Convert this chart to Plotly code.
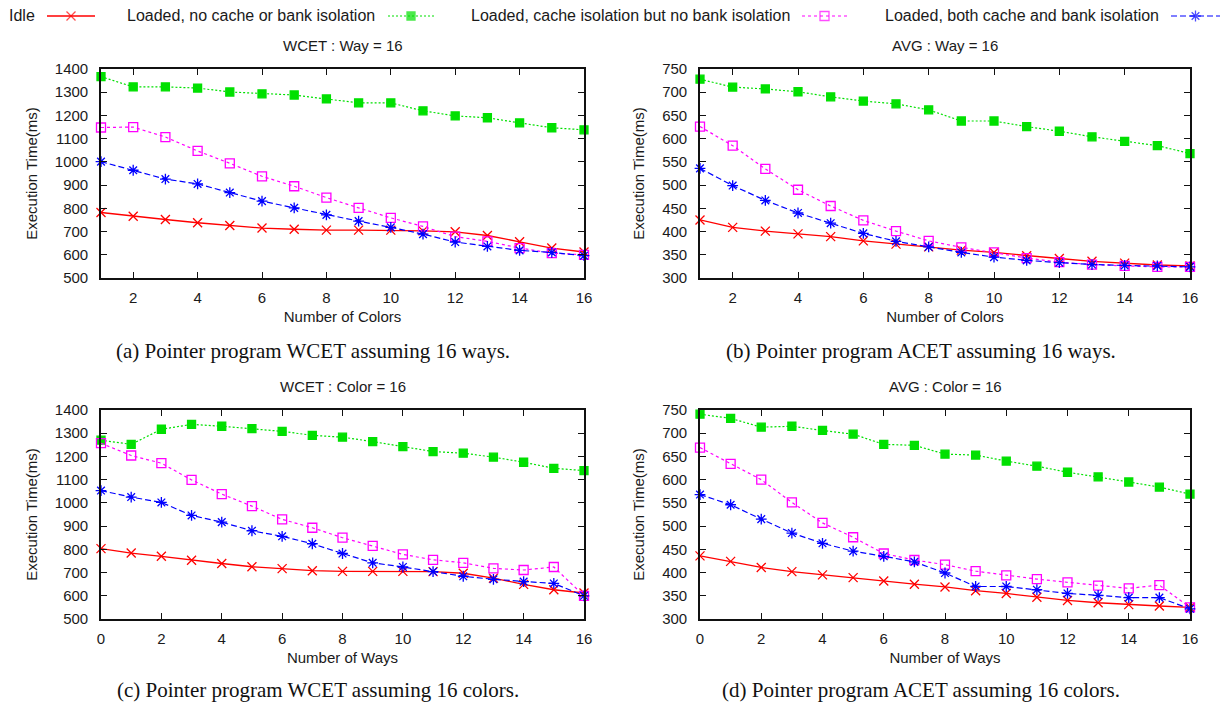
import plotly.graph_objects as go

W, H = 1222, 704

# ---------------- data ----------------
colors_x = list(range(1, 17))
ways_x = list(range(0, 17))

series_names = [
    "Idle",
    "Loaded, no cache or bank isolation",
    "Loaded, cache isolation but no bank isolation",
    "Loaded, both cache and bank isolation",
]

# (a) WCET : Way = 16  (x = number of colors 1..16)
wcet_way_idle = [782, 766, 752, 738, 726, 715, 710, 706, 706, 706, 703, 699, 683, 656, 629, 612]
wcet_way_nocache = [1367, 1323, 1323, 1318, 1301, 1293, 1288, 1271, 1254, 1254, 1220, 1198, 1190, 1168, 1147, 1138]
wcet_way_cache = [1148, 1150, 1107, 1047, 994, 938, 895, 846, 802, 759, 722, 678, 658, 629, 607, 600]
wcet_way_both = [1001, 964, 926, 905, 868, 831, 802, 772, 745, 718, 689, 655, 636, 619, 610, 596]

# (b) AVG : Way = 16
avg_way_idle = [425, 409, 401, 395, 389, 380, 373, 367, 360, 355, 348, 342, 336, 332, 328, 326]
avg_way_nocache = [728, 711, 707, 701, 690, 681, 675, 662, 638, 638, 626, 616, 604, 594, 585, 568]
avg_way_cache = [626, 585, 535, 490, 455, 424, 401, 380, 366, 355, 343, 334, 329, 326, 324, 324]
avg_way_both = [536, 499, 467, 440, 418, 396, 379, 367, 355, 345, 338, 333, 329, 327, 326, 324]

# (c) WCET : Color = 16  (x = number of ways 0..16)
wcet_col_idle = [803, 784, 770, 753, 739, 725, 717, 708, 705, 705, 705, 704, 697, 676, 649, 626, 612]
wcet_col_nocache = [1270, 1252, 1317, 1338, 1330, 1320, 1308, 1291, 1283, 1264, 1242, 1221, 1214, 1197, 1175, 1149, 1139]
wcet_col_cache = [1257, 1204, 1171, 1099, 1038, 986, 929, 893, 850, 815, 778, 755, 742, 718, 711, 724, 600]
wcet_col_both = [1053, 1025, 1002, 946, 917, 880, 856, 824, 782, 742, 724, 704, 684, 671, 661, 653, 600]

# (d) AVG : Color = 16
avg_col_idle = [436, 424, 411, 402, 395, 389, 382, 375, 369, 361, 355, 347, 340, 335, 331, 328, 325]
avg_col_nocache = [741, 732, 713, 715, 706, 698, 676, 674, 655, 653, 640, 629, 616, 606, 595, 584, 569]
avg_col_cache = [669, 634, 600, 551, 507, 476, 441, 427, 417, 403, 394, 386, 379, 372, 366, 373, 325]
avg_col_both = [568, 546, 515, 485, 463, 446, 435, 423, 399, 370, 370, 363, 355, 351, 346, 346, 322]

panel_titles = ["WCET : Way = 16", "AVG : Way = 16", "WCET : Color = 16", "AVG : Color = 16"]
x_titles = ["Number of Colors", "Number of Colors", "Number of Ways", "Number of Ways"]
y_title = "Execution Time(ms)"
captions = [
    "(a) Pointer program WCET assuming 16 ways.",
    "(b) Pointer program ACET assuming 16 ways.",
    "(c) Pointer program WCET assuming 16 colors.",
    "(d) Pointer program ACET assuming 16 colors.",
]

# ---------------- styles ----------------
SANS = "Liberation Sans, Arial, sans-serif"
SERIF = "Liberation Serif, Times New Roman, serif"
styles = [
    dict(color="#ff0000", dash="solid", symbol="x-thin-open", size=9, width=1.3),
    dict(color="#00e000", dash="2px,2px", symbol="square", size=8, width=1.2),
    dict(color="#ff00ff", dash="3px,3px", symbol="square-open", size=9, width=1.2),
    dict(color="#0000ff", dash="6px,3px", symbol="asterisk-open", size=9, width=1.2),
]


def px_x(v):
    return v / W


def px_y(v):
    return 1 - v / H


panels = [
    dict(x=colors_x, ys=[wcet_way_idle, wcet_way_nocache, wcet_way_cache, wcet_way_both],
         xr=[1, 16], yr=[500, 1400], dy=100, box=(101, 584, 69, 278)),
    dict(x=colors_x, ys=[avg_way_idle, avg_way_nocache, avg_way_cache, avg_way_both],
         xr=[1, 16], yr=[300, 750], dy=50, box=(700, 1190, 69, 278)),
    dict(x=ways_x, ys=[wcet_col_idle, wcet_col_nocache, wcet_col_cache, wcet_col_both],
         xr=[0, 16], yr=[500, 1400], dy=100, box=(101, 584, 410, 619)),
    dict(x=ways_x, ys=[avg_col_idle, avg_col_nocache, avg_col_cache, avg_col_both],
         xr=[0, 16], yr=[300, 750], dy=50, box=(700, 1190, 410, 619)),
]

fig = go.Figure()
layout = dict(
    width=W, height=H, margin=dict(l=0, r=0, t=0, b=0, pad=0, autoexpand=False),
    paper_bgcolor="white", plot_bgcolor="white", showlegend=False,
    font=dict(family=SANS, size=14, color="#1a1a1a"),
)
annotations = []

for i, p in enumerate(panels):
    n = i + 1
    xa = "x" if n == 1 else f"x{n}"
    ya = "y" if n == 1 else f"y{n}"
    x0, x1, y0, y1 = p["box"]
    axis_common = dict(
        showline=True, linecolor="#111111", linewidth=1.6, mirror="ticks",
        ticks="inside", ticklen=6, tickwidth=1.2, tickcolor="#111111",
        showgrid=False, zeroline=False, automargin=False,
        tickfont=dict(family=SANS, size=15, color="#1a1a1a"),
    )
    layout["xaxis" if n == 1 else f"xaxis{n}"] = dict(
        axis_common, domain=[px_x(x0), px_x(x1)], range=p["xr"],
        tick0=0, dtick=2, anchor=ya, ticklabelstandoff=5,
        title=dict(text=x_titles[i], font=dict(family=SANS, size=15), standoff=7),
    )
    layout["yaxis" if n == 1 else f"yaxis{n}"] = dict(
        axis_common, domain=[px_y(y1), px_y(y0)], range=p["yr"],
        tick0=0, dtick=p["dy"], anchor=xa, ticklabelstandoff=8,
        title=dict(text=y_title, font=dict(family=SANS, size=15), standoff=14),
    )
    for s, ys in enumerate(p["ys"]):
        st = styles[s]
        fig.add_trace(go.Scatter(
            x=p["x"], y=ys, xaxis=xa, yaxis=ya, mode="lines+markers",
            name=series_names[s],
            line=dict(color=st["color"], dash=st["dash"], width=st["width"]),
            marker=dict(symbol=st["symbol"], size=st["size"], color=st["color"],
                        line=dict(color=st["color"], width=1.3)),
            cliponaxis=False,
        ))
    annotations.append(dict(
        text=panel_titles[i], x=px_x((x0 + x1) / 2), y=px_y(y0 - 24),
        xref="paper", yref="paper", showarrow=False,
        font=dict(family=SANS, size=15, color="#1a1a1a"), xanchor="center", yanchor="middle",
    ))

# captions
cap_pos = [(313, 351), (921, 351), (318, 690), (921, 690)]
for i, (cx, cy) in enumerate(cap_pos):
    annotations.append(dict(
        text=captions[i], x=px_x(cx), y=px_y(cy), xref="paper", yref="paper",
        showarrow=False, font=dict(family=SERIF, size=21, color="#111111"),
        xanchor="center", yanchor="middle",
    ))

# custom gnuplot-style legend (text, then line sample)
leg_y = 16
leg_text_end = [37, 377, 792, 1161]
leg_sample = [(47, 95), (388, 434), (802, 847), (1171, 1220)]
layout["xaxis5"] = dict(domain=[0, 1], range=[0, W], visible=False, fixedrange=True, automargin=False)
layout["yaxis5"] = dict(domain=[px_y(32), 1], range=[32, 0], visible=False, fixedrange=True,
                        anchor="x5", automargin=False)
for s in range(4):
    st = styles[s]
    a, b = leg_sample[s]
    annotations.append(dict(
        text=series_names[s], x=px_x(leg_text_end[s]), y=px_y(leg_y), xref="paper", yref="paper",
        showarrow=False, font=dict(family=SANS, size=16, color="#1a1a1a"),
        xanchor="right", yanchor="middle",
    ))
    fig.add_trace(go.Scatter(
        x=[a, (a + b) / 2, b], y=[leg_y] * 3, xaxis="x5", yaxis="y5", mode="lines+markers",
        line=dict(color=st["color"], dash=st["dash"], width=st["width"]),
        marker=dict(symbol=st["symbol"], size=[0, st["size"], 0], color=st["color"],
                    line=dict(color=st["color"], width=1.3)),
        hoverinfo="skip", cliponaxis=False,
    ))

layout["annotations"] = annotations
fig.update_layout(**layout)
fig.write_html(
    "out.html",
    config={"displayModeBar": False},
    post_script="document.body.style.margin='0px';document.body.style.overflow='hidden';",
)
